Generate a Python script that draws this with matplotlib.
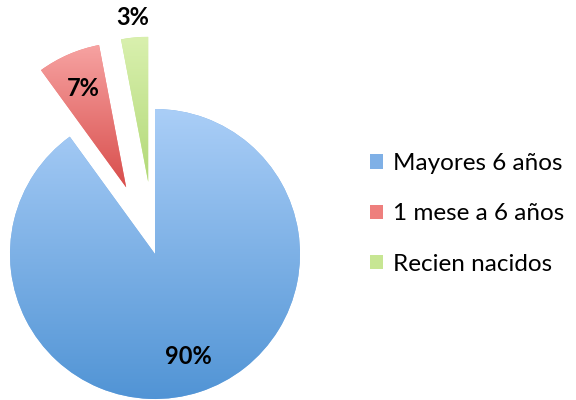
import numpy as np
import matplotlib
matplotlib.use("Agg")
import matplotlib.pyplot as plt
from matplotlib.colors import LinearSegmentedColormap
from matplotlib.patches import Patch

categories = ["Mayores 6 años", "1 mese a 6 años", "Recien nacidos"]
values = [90, 7, 3]
explode = [0, 0.5, 0.5]
top_colors = ["#AACEF7", "#F7A3A2", "#D9F0AE"]
bot_colors = ["#5194D5", "#D84E4C", "#B2D978"]
mid_colors = ["#7FB0E6", "#EE7F7D", "#C7E693"]

plt.rcParams['font.family'] = ['Lato', 'DejaVu Sans']

fig = plt.figure(figsize=(5.76, 4.0), dpi=100)
ax = fig.add_axes([0, 0, 1, 1])
R = 145.0
cx, cy = 155.0, 146.0

wedges, texts, autotexts = ax.pie(
    values, explode=explode, startangle=90, counterclock=False,
    colors=mid_colors, autopct='%1.0f%%', pctdistance=0.74,
    wedgeprops=dict(linewidth=0), textprops=dict(fontsize=17, fontweight='bold', color='black'),
    radius=1.0, center=(0, 0), frame=True)
ax.set_xlim(-cx / R, (576 - cx) / R)
ax.set_ylim(-cy / R, (400 - cy) / R)
ax.set_aspect('equal')
ax.axis('off')

# vertical gradient fill for each wedge
for w, tc, bc in zip(wedges, top_colors, bot_colors):
    bb = w.get_path().get_extents()
    cmap = LinearSegmentedColormap.from_list('g', [bc, tc])
    grad = np.linspace(0, 1, 256).reshape(-1, 1)
    im = ax.imshow(grad, cmap=cmap, origin='lower', aspect='auto',
                   extent=[bb.x0, bb.x1, bb.y0, bb.y1], zorder=w.get_zorder() + 0.1,
                   interpolation='bilinear')
    im.set_clip_path(w)

for t in autotexts:
    t.set_zorder(5)

# move the smallest slice label outside
w = wedges[2]
th = np.deg2rad((w.theta1 + w.theta2) / 2)
c = w.center
d = 1.14
autotexts[2].set_position((c[0] + d * np.cos(th), c[1] + d * np.sin(th)))

ax.set_xlim(-cx / R, (576 - cx) / R)
ax.set_ylim(-cy / R, (400 - cy) / R)

handles = [Patch(facecolor=m, edgecolor='none') for m in mid_colors]
fig.legend(handles, categories, loc='center left', bbox_to_anchor=(0.642, 0.465),
           frameon=False, fontsize=17.5, handlelength=0.55, handleheight=0.55,
           handletextpad=0.42, labelspacing=1.2, borderpad=0, borderaxespad=0)

fig.savefig('out.png', dpi=100)
